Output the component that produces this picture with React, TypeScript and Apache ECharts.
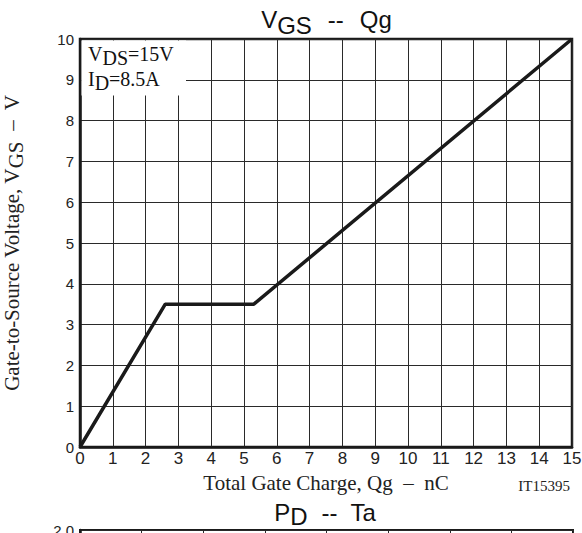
import React, { useEffect, useRef } from "react";
import * as echarts from "echarts";

// Gate charge curve (V_GS vs Qg)
const qgValues = [0, 2.6, 5.3, 15];
const vgsValues = [0, 3.5, 3.5, 10];

// Axis ranges
const qgAxis = { min: 0, max: 15, interval: 1 };
const vgsAxis = { min: 0, max: 10, interval: 1 };

// Lower (cut-off) chart PD -- Ta
const taAxis = { min: 0, max: 160, interval: 20 };
const pdAxis = { min: 0, max: 2.0, interval: 0.4 };

const SANS = "'Liberation Sans', Arial, sans-serif";
const SERIF = "'Liberation Serif', 'Times New Roman', serif";
const INK = "#1a1a1a";
const GRIDC = "#2a2a2a";

export default function App() {
  const ref = useRef<HTMLDivElement>(null);

  useEffect(() => {
    if (!ref.current) return;
    const chart = echarts.init(ref.current, undefined, { renderer: "svg" });

    const lineData = qgValues.map((q, i) => [q, vgsValues[i]]);

    const axisCommon = {
      axisLine: { show: true, lineStyle: { color: INK, width: 2.5 } },
      axisTick: { show: false },
      splitLine: { show: true, lineStyle: { color: GRIDC, width: 1 } },
    };

    chart.setOption({
      animation: false,
      backgroundColor: "#fff",
      grid: [
        {
          left: 80,
          top: 39,
          width: 492,
          height: 408,
          show: true,
          borderColor: INK,
          borderWidth: 2.5,
          backgroundColor: "transparent",
          containLabel: false,
          outerBoundsMode: "none",
        },
        {
          left: 80,
          top: 530,
          width: 493,
          height: 300,
          show: true,
          borderColor: INK,
          borderWidth: 2,
          backgroundColor: "transparent",
          containLabel: false,
          outerBoundsMode: "none",
        },
      ],
      xAxis: [
        {
          gridIndex: 0,
          type: "value",
          ...qgAxis,
          ...axisCommon,
          axisLabel: {
            color: "#222",
            fontFamily: SANS,
            fontSize: 17,
            margin: 3,
          },
          name: "Total Gate Charge, Qg  –  nC",
          nameLocation: "middle",
          nameGap: 25,
          nameTextStyle: {
            color: "#222",
            fontFamily: SERIF,
            fontSize: 21,
            verticalAlign: "top",
          },
        },
        {
          gridIndex: 1,
          type: "value",
          ...taAxis,
          ...axisCommon,
          axisLabel: { show: false },
        },
      ],
      yAxis: [
        {
          gridIndex: 0,
          type: "value",
          ...vgsAxis,
          ...axisCommon,
          axisLabel: {
            color: "#222",
            fontFamily: SANS,
            fontSize: 15,
            margin: 6,
          },
          name: "Gate-to-Source Voltage, V{s|GS}  –  V",
          nameLocation: "middle",
          nameRotate: 90,
          nameGap: 54,
          nameTextStyle: {
            color: "#222",
            fontFamily: SERIF,
            fontSize: 21,
            rich: {
              s: { fontFamily: SERIF, fontSize: 21, color: "#222", padding: [8, 0, 0, 0] },
            },
          },
        },
        {
          gridIndex: 1,
          type: "value",
          ...pdAxis,
          ...axisCommon,
          axisLabel: {
            color: "#222",
            fontFamily: SANS,
            fontSize: 15,
            margin: 6,
            formatter: (v: number) => v.toFixed(1),
          },
        },
      ],
      series: [
        {
          type: "line",
          xAxisIndex: 0,
          yAxisIndex: 0,
          data: lineData,
          symbol: "none",
          lineStyle: { color: INK, width: 3.5 },
          z: 10,
        },
        {
          type: "line",
          xAxisIndex: 1,
          yAxisIndex: 1,
          data: [],
          symbol: "none",
        },
      ],
      graphic: [
        {
          type: "rect",
          z: 20,
          shape: { x: 81.5, y: 40.5, width: 104.5, height: 55 },
          style: { fill: "#fff" },
        },
        {
          type: "text",
          z: 21,
          x: 88,
          y: 39.5,
          style: {
            text: "{n|V}{s|DS}{n|=15V}",
            align: "left",
            verticalAlign: "top",
            fill: "#111",
            font: `20px ${SERIF}`,
            rich: {
              n: { fontFamily: SERIF, fontSize: 20, fill: "#111" },
              s: { fontFamily: SERIF, fontSize: 20, fill: "#111", padding: [8, 0, 0, 0] },
            },
          },
        },
        {
          type: "text",
          z: 21,
          x: 88,
          y: 65,
          style: {
            text: "{n|I}{s|D}{n|=8.5A}",
            align: "left",
            verticalAlign: "top",
            fill: "#111",
            font: `20px ${SERIF}`,
            rich: {
              n: { fontFamily: SERIF, fontSize: 20, fill: "#111" },
              s: { fontFamily: SERIF, fontSize: 20, fill: "#111", padding: [8, 0, 0, 0] },
            },
          },
        },
        {
          type: "text",
          z: 21,
          x: 326.5,
          y: 1.5,
          style: {
            text: "{n|V}{s|GS}{d|--}{n|Qg}",
            align: "center",
            verticalAlign: "top",
            fill: "#111",
            font: `24px ${SANS}`,
            rich: {
              n: { fontFamily: SANS, fontSize: 24, fill: "#111" },
              s: { fontFamily: SANS, fontSize: 24, fill: "#111", padding: [12, 0, 0, 0] },
              d: { fontFamily: SANS, fontSize: 24, fill: "#111", padding: [0, 16, 0, 16] },
            },
          },
        },
        {
          type: "text",
          z: 21,
          x: 325,
          y: 496.5,
          style: {
            text: "{n|P}{s|D}{d|--}{n|Ta}",
            align: "center",
            verticalAlign: "top",
            fill: "#111",
            font: `24px ${SANS}`,
            rich: {
              n: { fontFamily: SANS, fontSize: 24, fill: "#111" },
              s: { fontFamily: SANS, fontSize: 24, fill: "#111", padding: [8, 0, 0, 0] },
              d: { fontFamily: SANS, fontSize: 24, fill: "#111", padding: [0, 13, 0, 14] },
            },
          },
        },
        {
          type: "text",
          z: 21,
          x: 570,
          y: 486,
          style: {
            text: "IT15395",
            align: "right",
            verticalAlign: "middle",
            fill: "#222",
            font: `15px ${SERIF}`,
          },
        },
      ],
    });

    return () => chart.dispose();
  }, []);

  return (
    <div
      ref={ref}
      style={{ position: "fixed", left: 0, top: 0, width: 582, height: 533, background: "#fff" }}
    />
  );
}
